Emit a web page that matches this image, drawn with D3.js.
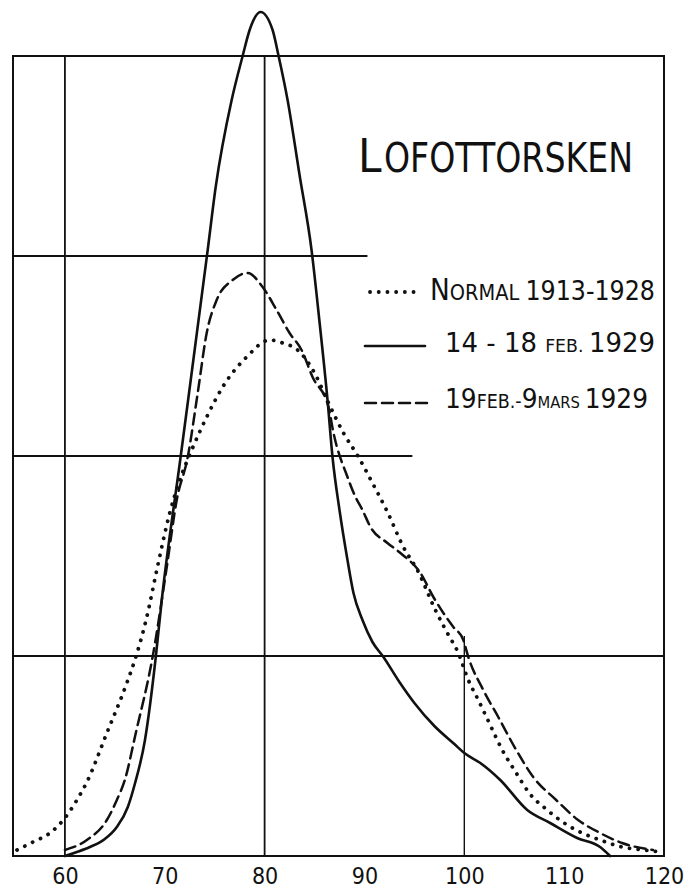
<!DOCTYPE html>
<html>
<head>
<meta charset="utf-8">
<script src="https://cdn.jsdelivr.net/npm/d3@7"></script>
<style>
  html, body { margin: 0; padding: 0; background: #fff; }
  text { font-family: "DejaVu Sans Condensed", "DejaVu Sans", sans-serif; fill: #111; }
</style>
</head>
<body>
<script>
// lengde (cm) og prosent, lest av figuren
const normal = [
  [55.2, 0.06], [56.8, 0.14], [58.5, 0.23], [60.0, 0.38], [61.2, 0.56], [62.2, 0.74],
  [64.2, 1.23], [66.2, 1.73], [67.1, 1.99], [68.2, 2.39], [69.2, 2.86], [70.5, 3.43],
  [71.5, 3.76], [72.7, 4.06], [74.2, 4.39], [75.8, 4.69], [78.2, 4.99], [80.5, 5.16],
  [81.8, 5.13], [83.3, 5.06], [85.0, 4.83], [86.4, 4.53], [87.9, 4.23], [89.4, 3.99],
  [90.8, 3.73], [92.3, 3.44], [93.9, 3.09], [95.4, 2.84], [97.1, 2.46], [98.3, 2.23],
  [99.4, 2.03], [100.4, 1.76], [101.4, 1.56], [102.5, 1.33], [103.8, 1.06], [105.2, 0.83],
  [106.5, 0.63], [108.3, 0.46], [110.0, 0.33], [111.8, 0.23], [113.6, 0.16], [115.8, 0.09],
  [118.0, 0.06], [119.8, 0.04]
];

const feb14_18 = [
  [60.0, 0.0], [61.2, 0.04], [62.5, 0.09], [64.0, 0.17], [65.2, 0.29], [66.3, 0.49],
  [67.0, 0.72], [68.0, 1.15], [69.1, 1.99], [69.7, 2.56], [71.6, 4.0], [74.3, 6.06],
  [75.1, 6.69], [76.7, 7.56], [77.8, 8.0], [78.5, 8.26], [79.6, 8.44], [80.8, 8.26],
  [81.4, 8.0], [82.3, 7.56], [83.5, 6.81], [84.7, 6.06], [85.5, 5.34], [86.3, 4.56],
  [86.8, 3.99], [87.5, 3.46], [88.3, 2.96], [88.9, 2.63], [89.8, 2.36], [90.8, 2.14],
  [91.9, 1.99], [93.5, 1.74], [95.0, 1.53], [97.0, 1.30], [99.0, 1.12], [100.0, 1.03],
  [101.6, 0.93], [103.6, 0.76], [106.3, 0.46], [108.6, 0.33], [111.3, 0.18], [113.6, 0.09],
  [114.6, 0.0]
];

const feb19_mar9 = [
  [60.0, 0.06], [62.2, 0.16], [64.2, 0.36], [65.2, 0.56], [66.0, 0.76], [67.1, 1.23],
  [68.8, 2.0], [70.2, 2.89], [71.2, 3.56], [72.3, 3.99], [73.3, 4.63], [74.2, 5.23],
  [75.2, 5.56], [76.8, 5.76], [78.3, 5.83], [79.8, 5.69], [81.2, 5.46], [82.5, 5.23],
  [83.7, 5.06], [84.8, 4.79], [86.4, 4.49], [86.9, 4.23], [88.3, 3.79], [89.1, 3.59],
  [89.8, 3.46], [90.6, 3.29], [92.3, 3.13], [93.6, 3.03], [95.6, 2.83], [96.9, 2.59],
  [97.9, 2.43], [98.9, 2.29], [99.9, 2.16], [100.4, 1.99], [101.9, 1.66], [103.4, 1.39],
  [105.2, 1.06], [106.9, 0.79], [109.2, 0.56], [111.4, 0.36], [113.6, 0.23], [115.8, 0.13],
  [118.9, 0.06]
];

const xTicks = [60, 70, 80, 90, 100, 110, 120];

const largura = 698;
const altura = 891;

var svg = d3.select("body")
            .append("svg")
            .attr("width", largura)
            .attr("height", altura);

var x = d3.scaleLinear()
          .domain([54.8, 120])
          .range([13, 664]);

var y = d3.scaleLinear()
          .domain([0, 8])
          .range([856, 56]);

var grid = svg.append("g")
              .attr("stroke", "#111")
              .attr("fill", "none");

// ramme
grid.append("rect")
    .attr("x", x(54.8))
    .attr("y", y(8))
    .attr("width", x(120) - x(54.8))
    .attr("height", y(0) - y(8))
    .attr("stroke-width", 2);

// horisontale linjer (noen er korte)
var hLinjer = [[2, 120], [4, 94.8], [6, 90.3]];
grid.selectAll("line.h")
    .data(hLinjer)
    .enter()
    .append("line")
    .attr("class", "h")
    .attr("x1", x(54.8))
    .attr("x2", function(d) { return x(d[1]); })
    .attr("y1", function(d) { return y(d[0]); })
    .attr("y2", function(d) { return y(d[0]); })
    .attr("stroke-width", 1.8);

// vertikale linjer
var vLinjer = [[60, 8], [80, 8], [100, 2.2]];
grid.selectAll("line.v")
    .data(vLinjer)
    .enter()
    .append("line")
    .attr("class", "v")
    .attr("x1", function(d) { return x(d[0]); })
    .attr("x2", function(d) { return x(d[0]); })
    .attr("y1", y(0))
    .attr("y2", function(d) { return y(d[1]); })
    .attr("stroke-width", function(d) { return d[0] === 100 ? 1.4 : 1.8; });

// x-akse
var xEixo = d3.axisBottom(x)
              .tickValues(xTicks)
              .tickSize(0)
              .tickPadding(12)
              .tickFormat(d3.format("d"));

var eixo = svg.append("g")
              .attr("transform", "translate(0," + y(0) + ")")
              .call(xEixo);
eixo.select(".domain").remove();
eixo.selectAll("text")
    .attr("font-size", 23)
    .attr("font-family", "DejaVu Sans Condensed, DejaVu Sans, sans-serif")
    .attr("fill", "#111");

var linje = d3.line()
              .x(function(d) { return x(d[0]); })
              .y(function(d) { return y(d[1]); })
              .curve(d3.curveMonotoneX);

var stil = {
  dot: { dash: "0.1 8.6", w: 3.8 },
  solid: { dash: null, w: 2.6 },
  dash: { dash: "11 6", w: 2.5 }
};

function tegn(serie, s) {
  svg.append("path")
     .datum(serie)
     .attr("fill", "none")
     .attr("stroke", "#111")
     .attr("stroke-width", s.w)
     .attr("stroke-linecap", "round")
     .attr("stroke-dasharray", s.dash)
     .attr("d", linje);
}

tegn(normal, stil.dot);
tegn(feb19_mar9, stil.dash);
tegn(feb14_18, stil.solid);

// tittel
var tittel = svg.append("g");
tittel.append("text")
      .attr("x", 358).attr("y", 172)
      .attr("font-size", 47)
      .text("L");
tittel.append("text")
      .attr("x", 384).attr("y", 172)
      .attr("font-size", 40)
      .attr("textLength", 249)
      .attr("lengthAdjust", "spacingAndGlyphs")
      .text("OFOTTORSKEN");

// tegnforklaring
var legenda = [
  { s: stil.dot, x1: 370, x2: 420, y: 292, tx: 430, ty: 300, tl: 225,
    parts: [["N", 30], ["ORMAL ", 22], [" 1913-1928", 27]] },
  { s: stil.solid, x1: 365, x2: 425, y: 346, tx: 445, ty: 352, tl: 210,
    parts: [["14 - 18 ", 27], ["FEB. ", 18], [" 1929", 27]] },
  { s: stil.dash, x1: 365, x2: 430, y: 403, tx: 445, ty: 408, tl: 203,
    parts: [["19", 27], ["FEB.-", 19], ["9", 27], ["MARS ", 16], ["1929", 27]] }
];

var leg = svg.append("g");
legenda.forEach(function(l) {
  leg.append("line")
     .attr("x1", l.x1).attr("x2", l.x2)
     .attr("y1", l.y).attr("y2", l.y)
     .attr("stroke", "#111")
     .attr("stroke-width", l.s.w)
     .attr("stroke-linecap", "round")
     .attr("stroke-dasharray", l.s.dash);
  var t = leg.append("text")
             .attr("x", l.tx).attr("y", l.ty)
             .attr("textLength", l.tl)
             .attr("lengthAdjust", "spacingAndGlyphs");
  l.parts.forEach(function(p) {
    t.append("tspan").attr("font-size", p[1]).text(p[0]);
  });
});
</script>
</body>
</html>
